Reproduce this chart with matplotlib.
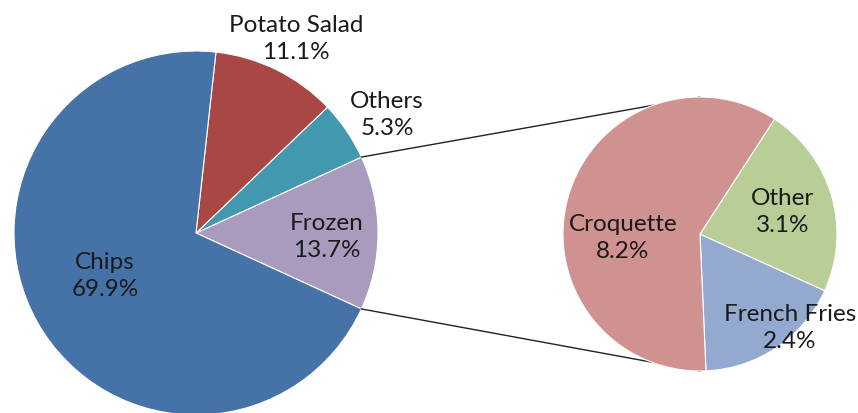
import matplotlib
matplotlib.use("Agg")
import matplotlib.pyplot as plt
import numpy as np

# ---- data ----
main_labels = ["Frozen", "Others", "Potato Salad", "Chips"]
main_values = [13.7, 5.3, 11.1, 69.9]
sub_labels = ["French Fries", "Other", "Croquette"]
sub_values = [2.4, 3.1, 8.2]

# ---- style / layout ----
main_colors = ["#A99BBE", "#4299AF", "#A94744", "#4572A7"]
sub_colors = ["#93A9CF", "#B9CD96", "#D09290"]
W, H = 858, 413
main_center = (196, H - 233)
main_r = 182
sub_center = (700, H - 234)
sub_r = 137
# label centres in pixel coords (x, y from top)
main_label_pos = {"Frozen": (327, 237), "Others": (387, 115),
                  "Potato Salad": (296, 39), "Chips": (105, 276)}
sub_label_pos = {"French Fries": (790, 328), "Other": (783, 212),
                 "Croquette": (623, 238)}

font = ["Lato", "DejaVu Sans"]
fs = 17.5
txt_color = "#1a1a1a"

fig = plt.figure(figsize=(W / 100, H / 100), dpi=100)
ax = fig.add_axes([0, 0, 1, 1])

total_main = sum(main_values)
frozen_deg = main_values[0] / total_main * 360
w1, _ = ax.pie(main_values, colors=main_colors, startangle=-frozen_deg / 2,
               counterclock=True, center=main_center, radius=main_r,
               wedgeprops=dict(edgecolor="white", linewidth=0.8))

w2, _ = ax.pie(sub_values, colors=sub_colors, startangle=-87.5,
               counterclock=True, center=sub_center, radius=sub_r,
               wedgeprops=dict(edgecolor="white", linewidth=0.8))
for w in w2:
    w.set_zorder(3)

# connector lines from frozen wedge edges to top/bottom of second pie
fz = w1[0]
a1, a2 = np.deg2rad(fz.theta1), np.deg2rad(fz.theta2)
p_top = (main_center[0] + main_r * np.cos(a2), main_center[1] + main_r * np.sin(a2))
p_bot = (main_center[0] + main_r * np.cos(a1), main_center[1] + main_r * np.sin(a1))
ax.plot([p_top[0], sub_center[0]], [p_top[1], sub_center[1] + sub_r],
        color="#222222", lw=1.0, zorder=1)
ax.plot([p_bot[0], sub_center[0]], [p_bot[1], sub_center[1] - sub_r],
        color="#222222", lw=1.0, zorder=1)

for lab, val in zip(main_labels, main_values):
    x, y = main_label_pos[lab]
    ax.text(x, H - y, f"{lab}\n{val:.1f}%", ha="center", va="center",
            fontsize=fs, family=font, color=txt_color, linespacing=1.3, zorder=5)
for lab, val in zip(sub_labels, sub_values):
    x, y = sub_label_pos[lab]
    ax.text(x, H - y, f"{lab}\n{val:.1f}%", ha="center", va="center",
            fontsize=fs, family=font, color=txt_color, linespacing=1.3, zorder=5)

ax.set_xlim(0, W)
ax.set_ylim(0, H)
ax.set_aspect("equal")
ax.axis("off")
fig.savefig("out.png", dpi=100)
